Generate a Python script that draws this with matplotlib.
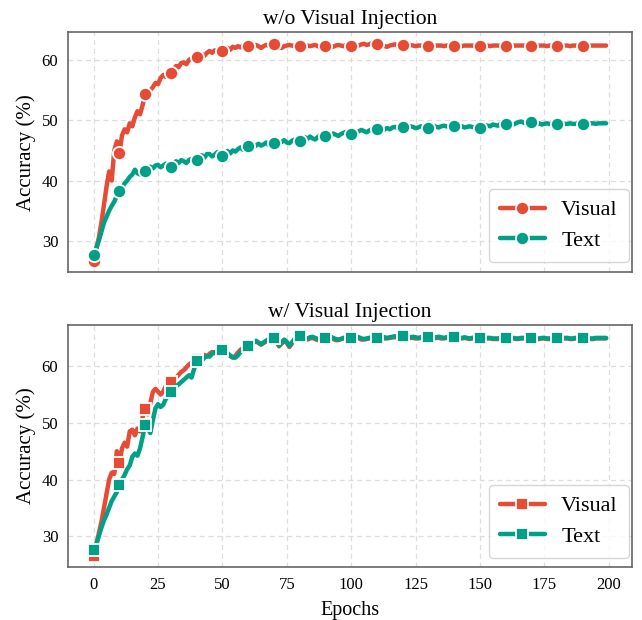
import matplotlib
matplotlib.use("Agg")
import matplotlib.pyplot as plt
import numpy as np

plt.rcParams['font.family'] = ['Liberation Serif', 'DejaVu Serif']

epochs = list(range(200))

top_visual = [
    26.6, 28.5, 30.5, 33.0, 36.0, 39.0, 41.5, 40.0, 45.0, 46.5,
    44.5, 47.5, 48.5, 48.0, 49.5, 49.0, 50.5, 51.5, 51.0, 52.5,
    54.3, 54.0, 55.0, 55.5, 56.2, 56.0, 57.0, 57.5, 57.2, 58.0,
    57.8, 58.5, 59.0, 58.8, 59.5, 59.6, 59.3, 60.0, 60.3, 60.2,
    60.5, 60.8, 61.0, 60.7, 61.2, 61.5, 61.2, 61.6, 61.4, 61.8,
    61.5, 61.8, 62.0, 61.7, 62.2, 62.0, 62.3, 62.1, 62.4, 62.2,
    62.3, 62.4, 62.2, 62.5, 62.3, 62.0, 62.3, 62.5, 62.4, 62.6,
    62.6, 62.5, 62.2, 62.0, 62.3, 62.4, 62.5, 62.4, 62.3, 62.4,
    62.4, 62.3, 62.5, 62.4, 62.3, 62.4, 62.5, 62.3, 62.2, 62.4,
    62.4, 62.5, 62.3, 62.2, 62.4, 62.5, 62.4, 62.3, 62.5, 62.4,
    62.4, 62.3, 62.5, 62.4, 62.6, 62.7, 62.5, 62.6, 62.8, 62.7,
    62.6, 62.4, 62.5, 62.3, 62.2, 62.4, 62.5, 62.6, 62.4, 62.5,
    62.5, 62.4, 62.3, 62.5, 62.4, 62.3, 62.4, 62.4, 62.3, 62.4,
    62.4, 62.4, 62.3, 62.4, 62.4, 62.4, 62.3, 62.4, 62.4, 62.4,
    62.4, 62.4, 62.4, 62.3, 62.4, 62.4, 62.4, 62.4, 62.3, 62.4,
    62.4, 62.4, 62.4, 62.4, 62.3, 62.4, 62.4, 62.4, 62.4, 62.4,
    62.4, 62.4, 62.3, 62.4, 62.4, 62.4, 62.4, 62.4, 62.4, 62.3,
    62.4, 62.4, 62.4, 62.4, 62.4, 62.4, 62.3, 62.4, 62.4, 62.4,
    62.4, 62.4, 62.4, 62.4, 62.4, 62.3, 62.4, 62.4, 62.4, 62.4,
    62.4, 62.4, 62.4, 62.4, 62.4, 62.4, 62.4, 62.4, 62.4, 62.4,
]

top_text = [
    27.6, 28.8, 30.0, 31.5, 33.0, 34.0, 35.0, 35.8, 36.5, 37.5,
    38.3, 38.8, 39.5, 40.0, 40.6, 41.0, 41.8, 41.2, 41.0, 41.5,
    41.6, 42.0, 42.3, 42.0, 42.5, 42.6, 42.2, 42.5, 42.8, 42.4,
    42.2, 42.8, 43.2, 42.9, 43.4, 43.2, 42.9, 43.4, 43.6, 43.2,
    43.4, 44.0, 44.2, 43.8, 44.4, 44.4, 44.0, 44.3, 44.7, 44.2,
    44.1, 44.6, 44.9, 44.5, 45.0, 44.8, 45.2, 45.5, 45.1, 45.6,
    45.7, 45.9, 45.5, 45.8, 46.1, 45.8, 46.0, 46.3, 45.9, 46.2,
    46.3, 46.5, 46.1, 46.4, 46.7, 46.3, 46.2, 46.6, 46.8, 46.5,
    46.5, 46.9, 47.2, 46.9, 47.3, 47.0, 46.8, 47.2, 47.5, 47.3,
    47.4, 47.2, 47.5, 47.8, 47.6, 47.4, 47.7, 47.9, 48.1, 47.8,
    47.8, 48.1, 47.9, 48.2, 48.4, 48.2, 48.0, 48.3, 48.5, 48.4,
    48.6, 48.4, 48.2, 48.5, 48.7, 48.5, 48.8, 48.9, 48.7, 49.0,
    48.9, 48.7, 48.8, 49.0, 48.9, 48.7, 48.8, 49.0, 48.9, 48.7,
    48.8, 49.0, 49.1, 48.9, 48.8, 49.0, 49.1, 49.0, 48.9, 49.1,
    49.0, 48.9, 49.1, 49.0, 48.8, 48.9, 49.0, 48.9, 48.8, 48.9,
    48.8, 49.0, 49.2, 49.1, 49.0, 49.3, 49.2, 49.1, 49.4, 49.3,
    49.3, 49.4, 49.2, 49.3, 49.5, 49.7, 49.8, 49.6, 49.5, 49.7,
    49.7, 49.5, 49.4, 49.5, 49.3, 49.4, 49.5, 49.4, 49.4, 49.5,
    49.4, 49.4, 49.5, 49.4, 49.4, 49.5, 49.4, 49.4, 49.5, 49.4,
    49.4, 49.5, 49.4, 49.5, 49.5, 49.4, 49.5, 49.5, 49.5, 49.5,
]

bottom_visual = [
    26.5, 28.5, 30.5, 32.5, 35.0, 37.5, 40.0, 41.2, 41.0, 45.0,
    43.0, 45.5, 46.5, 45.8, 48.5, 48.8, 47.8, 49.0, 48.5, 51.0,
    52.4, 51.5, 53.5, 55.5, 56.0, 55.5, 55.0, 55.5, 56.5, 56.8,
    57.2, 57.5, 58.0, 58.5, 59.0, 59.3, 59.8, 60.3, 60.6, 61.0,
    61.2, 61.5, 61.8, 62.0, 61.7, 62.2, 62.5, 62.3, 62.7, 62.5,
    62.8, 62.7, 62.2, 61.8, 61.5, 61.8, 62.4, 62.9, 63.2, 63.3,
    63.5, 63.8, 64.1, 64.4, 64.1, 63.8, 64.1, 64.4, 64.7, 64.8,
    64.9, 64.3, 63.5, 64.0, 64.5, 64.1, 63.4, 64.0, 64.6, 65.0,
    65.2, 65.0, 64.8, 64.7, 64.9, 65.0, 64.8, 64.6, 64.7, 64.8,
    64.8, 64.9, 65.0, 64.8, 64.6, 64.6, 64.8, 64.9, 64.9, 64.8,
    64.8, 64.9, 65.0, 64.9, 64.7, 64.7, 64.8, 64.9, 64.9, 64.9,
    64.9, 65.0, 65.0, 64.9, 64.9, 65.0, 65.1, 65.1, 65.1, 65.1,
    65.2, 65.0, 64.9, 65.0, 65.0, 64.9, 64.9, 65.0, 65.0, 65.0,
    65.1, 65.0, 64.9, 65.0, 65.0, 64.9, 64.9, 65.0, 65.0, 65.0,
    65.0, 64.9, 64.9, 64.9, 65.0, 64.9, 64.8, 64.9, 64.9, 64.9,
    64.9, 64.8, 64.8, 64.9, 64.9, 64.8, 64.8, 64.8, 64.9, 64.9,
    64.8, 64.8, 64.9, 64.9, 64.8, 64.8, 64.9, 64.9, 64.8, 64.8,
    64.9, 64.9, 64.8, 64.8, 64.9, 64.9, 64.8, 64.8, 64.9, 64.9,
    64.9, 64.8, 64.8, 64.9, 64.9, 64.8, 64.8, 64.9, 64.9, 64.8,
    64.8, 64.9, 64.9, 64.8, 64.8, 64.9, 64.9, 64.9, 64.9, 64.9,
]

bottom_text = [
    27.6, 28.5, 30.0, 31.5, 32.8, 33.8, 35.0, 36.2, 37.0, 37.8,
    39.1, 40.0, 40.8, 41.8, 42.5, 44.0, 44.6, 44.2, 45.5, 47.5,
    49.7, 49.0, 48.2, 50.5, 52.6, 53.3, 52.8, 53.2, 54.2, 54.8,
    55.4, 55.8, 56.5, 56.8, 57.2, 57.6, 58.0, 58.4, 58.0, 59.5,
    60.9, 61.2, 61.0, 61.5, 61.8, 61.7, 62.2, 62.5, 62.3, 62.7,
    62.8, 62.6, 62.3, 61.9, 61.6, 61.5, 61.9, 62.5, 63.0, 63.3,
    63.6, 63.9, 64.2, 64.5, 64.2, 63.9, 64.2, 64.5, 64.8, 64.9,
    65.0, 64.5, 63.7, 64.2, 64.7, 64.3, 63.6, 64.2, 64.8, 65.1,
    65.3, 65.2, 65.0, 64.9, 65.1, 65.2, 65.0, 64.8, 64.9, 65.0,
    64.9, 65.0, 65.2, 65.0, 64.8, 64.7, 64.8, 65.0, 65.1, 65.0,
    64.9, 65.0, 65.2, 65.1, 64.9, 64.8, 64.9, 65.0, 65.1, 65.0,
    65.0, 65.1, 65.2, 65.1, 65.0, 65.1, 65.2, 65.3, 65.2, 65.3,
    65.3, 65.1, 65.0, 65.1, 65.2, 65.1, 65.0, 65.1, 65.2, 65.1,
    65.2, 65.1, 65.0, 65.1, 65.2, 65.1, 65.0, 65.1, 65.2, 65.1,
    65.2, 65.1, 65.0, 65.0, 65.1, 65.0, 64.9, 65.0, 65.1, 65.0,
    65.0, 64.9, 64.9, 65.0, 65.0, 64.9, 64.9, 64.9, 65.0, 65.0,
    64.9, 64.9, 65.0, 65.0, 64.9, 64.9, 65.0, 65.0, 64.9, 64.9,
    65.0, 65.0, 64.9, 64.9, 65.0, 65.0, 64.9, 64.9, 65.0, 65.0,
    65.0, 64.9, 64.9, 65.0, 65.0, 64.9, 64.9, 65.0, 65.0, 64.9,
    64.9, 65.0, 65.0, 64.9, 64.9, 65.0, 65.0, 65.0, 65.0, 65.0,
]

titles = ["w/o Visual Injection", "w/ Visual Injection"]
series_labels = ["Visual", "Text"]
xticks = [0, 25, 50, 75, 100, 125, 150, 175, 200]
yticks = [30, 40, 50, 60]

RED = "#E64B35"
GREEN = "#00A087"

fig = plt.figure(figsize=(6.42, 6.2), dpi=100)
ax1 = fig.add_axes([0.106, 0.561, 0.878, 0.387])
ax2 = fig.add_axes([0.106, 0.0855, 0.878, 0.390], sharex=ax1)

panels = [
    (ax1, top_visual, top_text, "o", 0.042),
    (ax2, bottom_visual, bottom_text, "s", 0.037),
]

for i, (ax, vis, txt, mk, ly) in enumerate(panels):
    for vals, col, lab in [(vis, RED, series_labels[0]), (txt, GREEN, series_labels[1])]:
        ax.plot(epochs, vals, color=col, lw=3.2, marker=mk, markevery=10,
                markersize=9.5 if mk == "o" else 9, markeredgecolor="white",
                markeredgewidth=1.3, label=lab, solid_capstyle="round")
    ax.set_title(titles[i], fontsize=15.5, pad=6)
    ax.set_ylabel("Accuracy (%)", fontsize=15)
    ax.set_yticks(yticks)
    ax.grid(True, linestyle=(0, (4, 3)), color="#dddddd", linewidth=0.9)
    ax.set_axisbelow(True)
    ax.tick_params(axis="both", length=0, labelsize=12, pad=7)
    for sp in ax.spines.values():
        sp.set_color("#666666")
        sp.set_linewidth(1.2)
    leg = ax.legend(loc="lower right", bbox_to_anchor=(0.995, ly),
                    fontsize=16, frameon=True,
                    handlelength=2.0, borderpad=0.5, labelspacing=0.45,
                    handletextpad=0.75, borderaxespad=0.0, fancybox=True)
    leg.get_frame().set_edgecolor("#cccccc")
    leg.get_frame().set_linewidth(1.0)

ax1.set_xticks(xticks)
plt.setp(ax1.get_xticklabels(), visible=False)
ax2.set_xlabel("Epochs", fontsize=14.5, labelpad=6)

fig.savefig("out.png", dpi=100)
